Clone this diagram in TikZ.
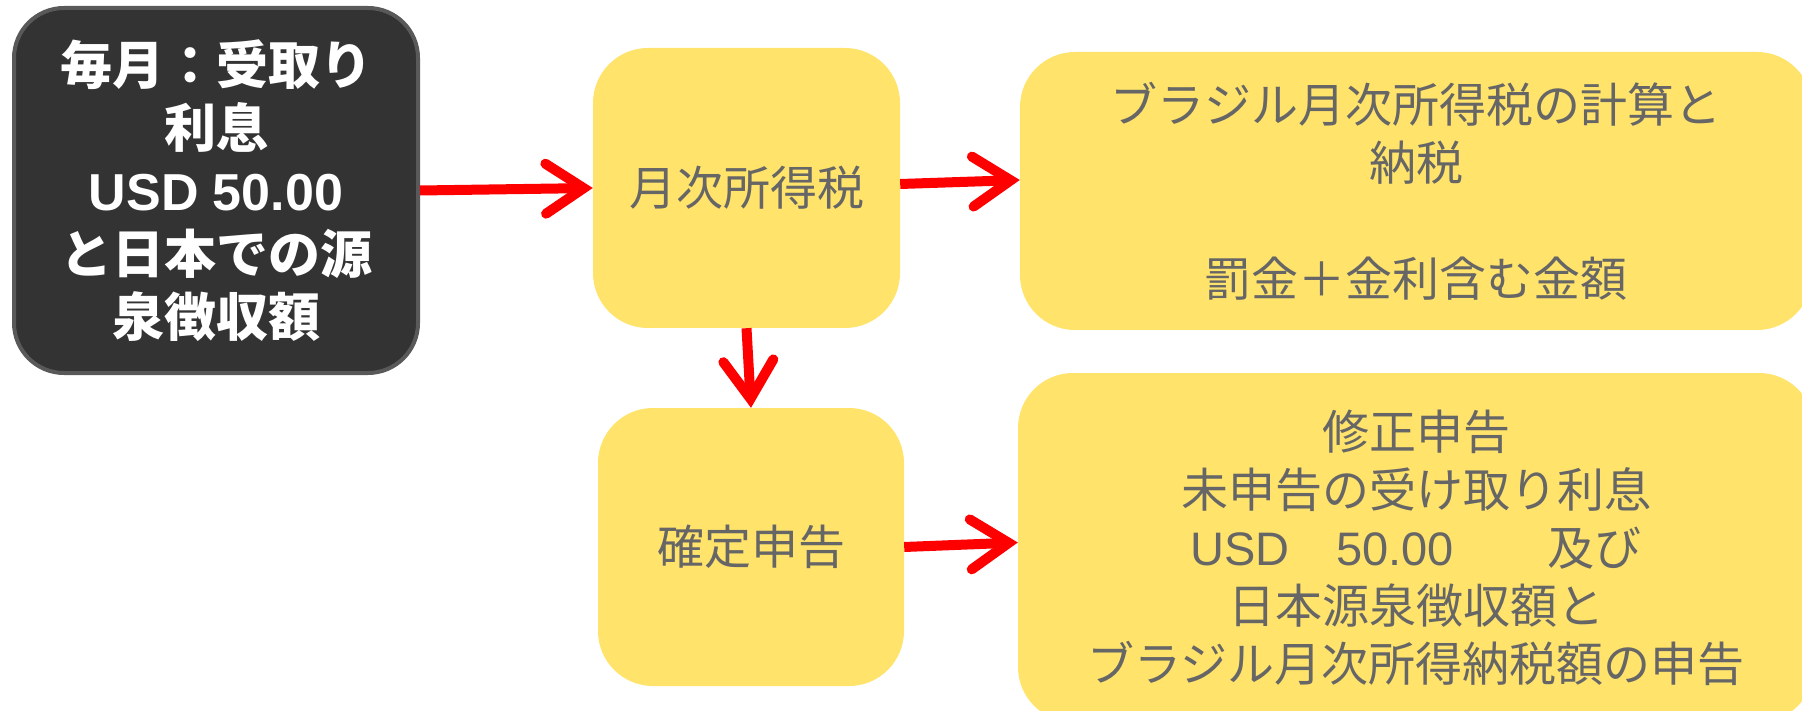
\documentclass[tikz,border=0pt]{standalone}
\usepackage{fontspec}
\setmainfont{Noto Sans CJK JP}
\newfontfamily\lat{Liberation Sans}
\usetikzlibrary{arrows.meta}
\definecolor{dk}{HTML}{333333}
\definecolor{dkb}{HTML}{595959}
\definecolor{yl}{HTML}{FFE36B}
\definecolor{tg}{HTML}{666666}
\definecolor{rd}{HTML}{FF0000}
\begin{document}
\begin{tikzpicture}[x=1pt,y=-1pt,
  darkbox/.style={draw=dkb, line width=4pt, fill=dk, rounded corners=50pt, text=white, align=center, inner sep=0pt, font=\fontsize{52}{63}\selectfont\bfseries},
  ybox/.style={fill=yl, rounded corners=55pt, text=tg, align=center, inner sep=0pt, font=\fontsize{47}{58}\selectfont},
  arr/.style={draw=rd, line width=10pt, -{Straight Barb[length=38pt,width=50pt,line cap=round,line join=miter]}}]
\useasboundingbox (0,0) rectangle (1802,711);
\clip (0,0) rectangle (1802,711);
\node[darkbox, minimum width=404pt, minimum height=365pt] (src) at (216,190.5)
  {毎月：受取り\\利息\\{\lat\bfseries USD 50.00}\\と日本での源\\泉徴収額};
\node[ybox, minimum width=307pt, minimum height=280pt] (mon) at (746.5,188) {月次所得税};
\node[ybox, minimum width=306pt, minimum height=278pt] (kak) at (751,547) {確定申告};
\node[ybox, minimum width=792pt, minimum height=278pt] (calc) at (1416,191)
  {ブラジル月次所得税の計算と\\納税\\[58pt]罰金＋金利含む金額};
\node[ybox, minimum width=796pt, minimum height=349pt] (amend) at (1416,547.5)
  {修正申告\\未申告の受け取り利息\\{\lat USD}\hspace{47pt}{\lat 50.00}\hspace{94pt}及び\\日本源泉徴収額と\\ブラジル月次所得納税額の申告};
\draw[arr] (src.east) -- (mon.west);
\draw[arr] ([yshift=4pt]mon.east) -- ([yshift=11pt]calc.west);
\draw[arr] (mon.south) -- (kak.north);
\draw[arr] (kak.east) -- ([yshift=5pt]amend.west);
\end{tikzpicture}
\end{document}
